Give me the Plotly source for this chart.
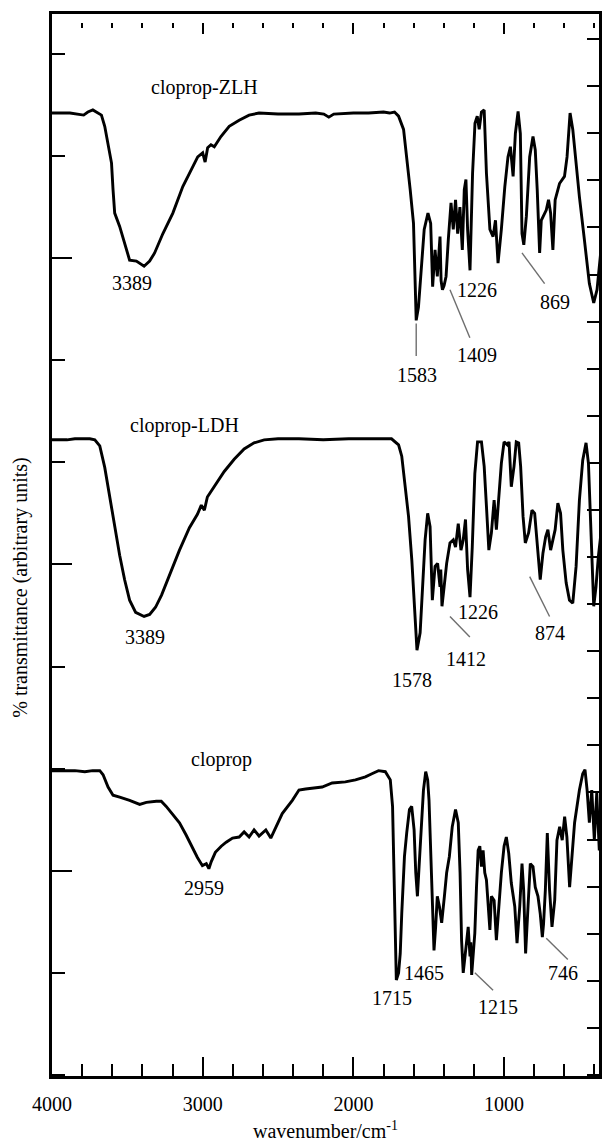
import plotly.graph_objects as go

# ---- spectra: wavenumber (cm-1) and transmittance (arbitrary units, stacked) ----
zlh_wn = [4000, 3881, 3790, 3762, 3729, 3703, 3672, 3650, 3628, 3605, 3595, 3584, 3551, 3518,
          3485, 3440, 3389, 3352, 3319, 3264, 3198, 3132, 3066, 3033, 3000, 2984, 2967, 2945,
          2923, 2879, 2824, 2758, 2692, 2626, 2500, 2361, 2250, 2196, 2163, 2130, 2000, 1899,
          1800, 1760, 1727, 1700, 1667, 1645, 1623, 1601, 1593, 1588, 1583, 1568, 1550, 1530,
          1505, 1487, 1474, 1458, 1443, 1425, 1418, 1409, 1398, 1385, 1370, 1352, 1337, 1322,
          1308, 1293, 1277, 1264, 1253, 1242, 1226, 1209, 1193, 1178, 1165, 1150, 1132, 1117,
          1094, 1073, 1057, 1040, 1018, 995, 974, 958, 940, 925, 907, 892, 881, 869, 852, 830,
          808, 793, 780, 764, 753, 738, 720, 705, 691, 676, 661, 632, 599, 582, 562, 544, 522,
          500, 467, 434, 405, 383, 357]
zlh_t = [94.2, 94.2, 94.0, 94.3, 94.5, 94.3, 94.0, 92.9, 91.3, 89.3, 86.7, 84.4, 83.1, 81.5,
         79.8, 79.7, 79.2, 79.7, 80.5, 82.4, 84.4, 87.0, 89.0, 89.9, 90.3, 89.4, 90.8, 91.1,
         90.9, 91.9, 92.9, 93.5, 94.0, 94.2, 94.1, 94.1, 94.2, 94.1, 93.8, 94.1, 94.2, 94.2,
         94.3, 94.2, 94.3, 93.9, 92.6, 89.9, 86.7, 83.4, 78.6, 75.2, 73.9, 75.2, 78.6, 82.8,
         84.4, 83.4, 77.2, 80.8, 78.2, 82.1, 77.8, 76.9, 77.3, 78.2, 81.8, 85.4, 82.8, 85.7,
         82.4, 85.0, 80.8, 86.7, 87.7, 82.8, 78.8, 88.3, 93.2, 93.9, 92.6, 94.3, 94.5, 88.3,
         82.8, 82.1, 83.7, 79.5, 82.8, 87.0, 89.9, 90.9, 88.0, 92.2, 94.35, 92.2, 82.4, 81.3,
         84.1, 89.9, 91.9, 90.6, 86.7, 80.5, 83.7, 84.1, 84.7, 85.7, 84.4, 80.8, 85.7, 87.3,
         88.0, 89.9, 94.2, 92.6, 89.0, 86.0, 81.8, 77.5, 75.6, 76.9, 80.8]

ldh_wn = [4000, 3900, 3848, 3749, 3716, 3683, 3650, 3617, 3584, 3551, 3518, 3485, 3445, 3389,
          3352, 3313, 3273, 3220, 3154, 3088, 3035, 3009, 2989, 2969, 2923, 2857, 2791, 2725,
          2659, 2592, 2500, 2361, 2200, 2031, 1900, 1747, 1700, 1679, 1656, 1634, 1612, 1590,
          1578, 1557, 1540, 1524, 1507, 1491, 1476, 1458, 1441, 1425, 1420, 1412, 1400, 1381,
          1359, 1337, 1322, 1304, 1286, 1271, 1256, 1242, 1226, 1211, 1194, 1176, 1150, 1132,
          1117, 1101, 1084, 1066, 1051, 1035, 1018, 1000, 978, 967, 952, 934, 919, 903, 890,
          874, 859, 837, 815, 797, 780, 760, 742, 724, 709, 691, 676, 661, 643, 625, 610, 588,
          566, 544, 522, 500, 478, 456, 440, 423, 405, 390, 374, 352]
ldh_t = [62.2, 62.2, 62.3, 62.3, 62.2, 61.6, 59.5, 56.6, 53.7, 50.9, 48.5, 46.5, 45.3, 44.9,
         45.1, 45.8, 47.0, 49.0, 51.4, 53.6, 54.9, 55.8, 55.3, 56.6, 57.6, 59.1, 60.3, 61.3,
         61.9, 62.2, 62.3, 62.3, 62.2, 62.3, 62.3, 62.3, 61.7, 60.6, 57.6, 54.7, 50.4, 43.9,
         41.6, 43.3, 47.8, 52.4, 55.0, 53.7, 46.5, 49.8, 50.1, 47.8, 49.5, 45.9, 47.5, 50.1,
         52.1, 52.4, 51.7, 54.0, 51.4, 52.4, 54.4, 49.5, 46.8, 51.7, 58.9, 62.0, 62.0, 59.6,
         55.7, 51.4, 53.1, 56.3, 53.4, 56.3, 59.9, 62.0, 61.7, 62.0, 57.6, 59.6, 62.0, 61.9,
         59.6, 54.7, 52.1, 53.1, 55.3, 55.0, 52.1, 48.5, 51.1, 52.7, 53.4, 51.4, 52.4, 53.4,
         56.0, 55.0, 51.4, 48.2, 46.5, 46.2, 49.8, 56.3, 60.2, 61.9, 59.9, 53.1, 45.9, 47.8,
         50.8, 53.7]

clo_wn = [4000, 3900, 3848, 3782, 3730, 3683, 3661, 3628, 3595, 3551, 3485, 3418, 3374, 3308,
          3275, 3242, 3198, 3154, 3110, 3068, 3035, 3002, 2976, 2959, 2943, 2916, 2877, 2844,
          2802, 2758, 2725, 2692, 2659, 2626, 2581, 2548, 2515, 2472, 2405, 2361, 2317, 2207,
          2141, 2053, 1986, 1920, 1877, 1833, 1788, 1755, 1740, 1733, 1722, 1715, 1700, 1689,
          1679, 1661, 1646, 1628, 1613, 1597, 1586, 1575, 1564, 1550, 1535, 1520, 1507, 1498,
          1487, 1476, 1465, 1454, 1443, 1429, 1414, 1396, 1381, 1363, 1344, 1322, 1304, 1292,
          1282, 1271, 1260, 1249, 1238, 1226, 1221, 1215, 1205, 1194, 1183, 1172, 1161, 1150,
          1139, 1128, 1117, 1106, 1094, 1084, 1066, 1051, 1035, 1018, 1000, 985, 969, 952, 929,
          914, 896, 881, 870, 857, 841, 826, 808, 793, 775, 760, 746, 738, 726, 713, 698, 682,
          664, 649, 631, 614, 598, 583, 565, 549, 532, 500, 478, 463, 449, 434, 418, 401, 385,
          368, 352]
clo_t = [29.8, 29.8, 29.8, 29.7, 29.8, 29.8, 29.4, 28.2, 27.4, 27.2, 26.9, 26.5, 26.7, 26.8,
         26.8, 26.3, 25.5, 24.7, 23.5, 22.2, 21.3, 20.5, 20.7, 20.2, 20.9, 21.8, 22.4, 22.8,
         23.2, 23.3, 23.8, 23.3, 24.0, 23.4, 24.0, 23.2, 24.3, 25.6, 26.9, 27.9, 28.0, 28.2,
         28.6, 28.7, 28.9, 29.2, 29.5, 29.8, 29.7, 28.9, 26.3, 21.4, 13.9, 9.3, 10.0, 11.9,
         15.8, 21.4, 23.7, 26.0, 26.3, 24.0, 19.8, 17.5, 20.4, 23.7, 27.9, 29.7, 28.9, 26.9,
         22.4, 16.5, 12.2, 14.5, 17.5, 16.5, 14.9, 17.5, 19.8, 21.4, 24.3, 26.0, 24.7, 19.8,
         13.2, 10.0, 11.6, 13.2, 14.5, 11.6, 13.0, 9.8, 12.0, 13.9, 18.4, 22.0, 22.4, 20.4,
         22.0, 19.8, 19.1, 16.5, 14.2, 17.5, 17.1, 13.2, 16.5, 19.8, 22.4, 23.3, 21.7, 18.8,
         16.5, 12.9, 16.5, 20.7, 18.1, 11.9, 16.5, 20.7, 20.4, 18.4, 17.5, 15.8, 13.5, 14.8,
         18.1, 23.7, 18.1, 14.5, 17.1, 23.0, 24.3, 23.0, 25.3, 23.3, 18.4, 21.7, 24.7, 27.9,
         29.5, 29.9, 27.9, 24.7, 27.9, 23.0, 27.6, 22.0, 26.9]

# sample names (x, y, text)
titles = [(2989, 96.7, "cloprop-ZLH"), (3121, 63.6, "cloprop-LDH"), (2876, 30.9, "cloprop")]

# band labels (x, y, text)
band_labels = [
    (3468, 77.6, "3389"), (1581, 68.5, "1583"), (1178, 70.5, "1409"), (1178, 76.9, "1226"),
    (660, 75.7, "869"),
    (3385, 42.9, "3389"), (1608, 38.7, "1578"), (1251, 40.7, "1412"), (1172, 45.3, "1226"),
    (698, 43.3, "874"),
    (2989, 18.3, "2959"), (1747, 7.5, "1715"), (1529, 10.0, "1465"), (1040, 6.7, "1215"),
    (610, 10.0, "746"),
]

# leader lines from band labels to their bands (x0, y0, x1, y1)
leaders = [
    (1583, 73.6, 1583, 70.4), (1359, 76.9, 1227, 72.2), (881, 80.5, 731, 77.5),
    (1359, 44.9, 1227, 42.9), (830, 48.8, 698, 44.9),
    (1194, 10.0, 1073, 8.3), (720, 13.4, 577, 11.3),
]

x_ticks = [4000, 3000, 2000, 1000]
x_ticktext = ["4000", "3000", "2000", "1000"]
y_major_ticks = [20, 50, 80]

FONT = "Liberation Serif"
X_RANGE = [4000, 370]
Y_RANGE = [-0.1, 103.9]

fig = go.Figure()

for wn, t in [(zlh_wn, zlh_t), (ldh_wn, ldh_t), (clo_wn, clo_t)]:
    fig.add_trace(go.Scatter(x=wn, y=t, mode="lines",
                             line=dict(color="black", width=2.9),
                             hoverinfo="skip", showlegend=False))

for x0, y0, x1, y1 in leaders:
    fig.add_trace(go.Scatter(x=[x0, x1], y=[y0, y1], mode="lines",
                             line=dict(color="#6e6e6e", width=1.4),
                             hoverinfo="skip", showlegend=False))

# invisible trace that carries the secondary axes (top / right tick rows)
fig.add_trace(go.Scatter(x=[X_RANGE[0]], y=[Y_RANGE[0]], xaxis="x2", yaxis="y2",
                         mode="markers", marker=dict(opacity=0),
                         hoverinfo="skip", showlegend=False))

for x, y, s in titles + band_labels:
    fig.add_annotation(x=x, y=y, text=s, showarrow=False,
                       xanchor="center", yanchor="middle",
                       font=dict(family=FONT, size=20, color="black"))

fig.add_annotation(xref="paper", yref="paper", x=0.5, y=-0.0505,
                   xanchor="center", yanchor="middle",
                   text="wavenumber/cm<sup>-1</sup>", showarrow=False,
                   font=dict(family=FONT, size=20, color="black"))
fig.add_annotation(xref="paper", yref="paper", x=-0.058, y=0.46,
                   xanchor="center", yanchor="middle",
                   text="% transmittance (arbitrary units)", textangle=-90,
                   showarrow=False, font=dict(family=FONT, size=20, color="black"))

minor_x = [v for v in range(400, 4000, 200) if v % 1000]

fig.update_layout(
    width=606, height=1144,
    margin=dict(l=52, r=4, t=14, b=68),
    paper_bgcolor="white", plot_bgcolor="white",
    font=dict(family=FONT, size=20, color="black"),
    xaxis=dict(range=X_RANGE, showgrid=False, zeroline=False,
               showline=True, linecolor="black", linewidth=2.6, mirror=True,
               ticks="inside", ticklen=19, tickwidth=2.4, tickcolor="black",
               tickmode="array", tickvals=x_ticks, ticktext=x_ticktext,
               ticklabelstandoff=8,
               minor=dict(tickmode="array", tickvals=minor_x, ticks="inside",
                          ticklen=12, tickwidth=2.4, tickcolor="black")),
    xaxis2=dict(range=X_RANGE, overlaying="x", anchor="free", position=0.9925,
                side="top", showgrid=False, zeroline=False, showline=False,
                ticks="inside", ticklen=11, tickwidth=2.4, tickcolor="black",
                tickmode="array", tickvals=x_ticks, showticklabels=False,
                minor=dict(tickmode="array", tickvals=minor_x, ticks="inside",
                           ticklen=5, tickwidth=2.4, tickcolor="black")),
    yaxis=dict(range=Y_RANGE, showgrid=False, zeroline=False,
               showline=True, linecolor="black", linewidth=2.8, mirror=True,
               ticks="inside", ticklen=20, tickwidth=2.4, tickcolor="black",
               tickmode="array", tickvals=y_major_ticks, showticklabels=False,
               minor=dict(ticks="inside", ticklen=13, tickwidth=2.4,
                          tickcolor="black", tick0=0, dtick=10)),
    yaxis2=dict(range=Y_RANGE, overlaying="y", anchor="x2", side="right",
                showgrid=False, zeroline=False, showline=False,
                ticks="inside", ticklen=12, tickwidth=2.4, tickcolor="black",
                tick0=0, dtick=4.611, showticklabels=False),
)

fig.write_html("out.html")
